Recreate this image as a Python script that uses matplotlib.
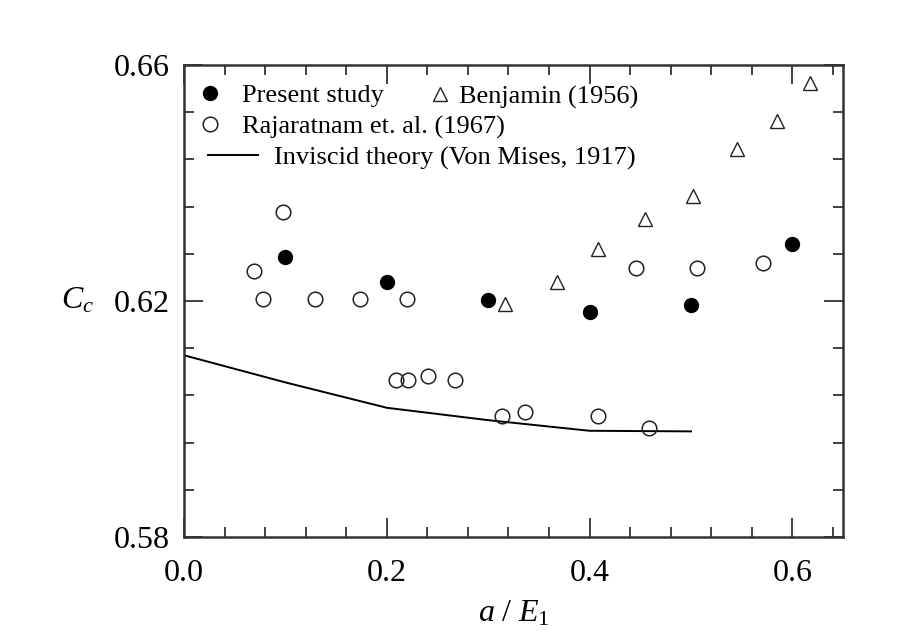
import matplotlib
matplotlib.use("Agg")
import numpy as np
import matplotlib.pyplot as plt
from matplotlib.lines import Line2D
from matplotlib.legend import Legend

plt.rcParams['font.family'] = ['Liberation Serif', 'DejaVu Serif']
plt.rcParams['mathtext.fontset'] = 'custom'
plt.rcParams['mathtext.rm'] = 'Liberation Serif'
plt.rcParams['mathtext.it'] = 'Liberation Serif:italic'

# Present study
present_x = [0.1, 0.2, 0.3, 0.4, 0.5, 0.6]
present_y = [0.6275, 0.6232, 0.6202, 0.6181, 0.6193, 0.6297]

# Benjamin (1956)
benj_x = [0.317, 0.368, 0.408, 0.455, 0.502, 0.545, 0.585, 0.617]
benj_y = [0.6195, 0.6232, 0.6288, 0.6339, 0.6378, 0.6458, 0.6505, 0.6569]

# Rajaratnam et. al. (1967)
raj_x = [0.069, 0.078, 0.098, 0.129, 0.174, 0.220, 0.209, 0.221, 0.241,
         0.267, 0.314, 0.336, 0.408, 0.446, 0.459, 0.506, 0.571]
raj_y = [0.6251, 0.6203, 0.6351, 0.6203, 0.6203, 0.6203, 0.6066, 0.6066, 0.6073,
         0.6066, 0.6005, 0.6012, 0.6005, 0.6256, 0.5985, 0.6256, 0.6264]

# Inviscid theory (Von Mises, 1917)
theory_x = [0.0, 0.1, 0.2, 0.3, 0.4, 0.5]
theory_y = [0.6108, 0.6062, 0.6019, 0.5998, 0.5980, 0.5979]

x_major = [0.0, 0.2, 0.4, 0.6]
y_major = [0.58, 0.62, 0.66]

fig = plt.figure(figsize=(9.13, 6.37), dpi=100)
ax = fig.add_axes([0.2015, 0.157, 0.722, 0.741])

ax.plot(theory_x, theory_y, color='black', lw=1.4)
ax.plot(raj_x, raj_y, 'o', ms=10.5, mfc='none', mec='#222222', mew=1.1, ls='none')
ax.plot(benj_x, benj_y, '^', ms=10, mfc='none', mec='#222222', mew=1.0, ls='none')
ax.plot(present_x, present_y, 'o', ms=10, color='black', ls='none')

ax.set_xlim(0, 0.65)
ax.set_ylim(0.58, 0.66)
ax.set_xticks(x_major)
ax.set_xticks(np.arange(0, 17) * 0.04, minor=True)
ax.set_yticks(y_major)
ax.set_yticks(0.58 + np.arange(0, 11) * 0.008, minor=True)
ax.set_xticklabels(['%.1f' % v for v in x_major])
ax.set_yticklabels(['%.2f' % v for v in y_major])
ax.tick_params(which='both', direction='in', top=True, right=True,
               labelsize=23, color='#333333', width=1.3)
ax.tick_params(axis='y', pad=10)
ax.tick_params(axis='x', pad=16)
ax.tick_params(which='major', length=14)
ax.tick_params(which='minor', length=7)
for s in ax.spines.values():
    s.set_linewidth(1.8)
    s.set_color('#333333')

ax.set_xlabel(r'$a\ /\ E_1$', fontsize=23, labelpad=8)
ax.set_ylabel(r'$C_c$', fontsize=23, rotation=0, labelpad=26, va='center')

h_present = Line2D([], [], marker='o', ms=10, color='black', ls='none')
h_raj = Line2D([], [], marker='o', ms=10.5, mfc='none', mec='#222222', mew=1.1, ls='none')
h_benj = Line2D([], [], marker='^', ms=10, mfc='none', mec='#222222', mew=1.0, ls='none')
h_line = Line2D([], [], color='black', lw=1.4)

legend_rows = [
    (h_present, 'Present study', (0.0197, 0.936), 1.0, 0.72),
    (h_raj, 'Rajaratnam et. al. (1967)', (0.0197, 0.869), 1.0, 0.72),
    (h_line, 'Inviscid theory (Von Mises, 1917)', (0.0364, 0.803), 1.9, 0.6),
    (h_benj, 'Benjamin (1956)', (0.369, 0.932), 1.0, 0.2),
]
for h, lab, anchor, hl, pad in legend_rows:
    leg = Legend(ax, [h], [lab], loc='center left', bbox_to_anchor=anchor,
                 frameon=False, fontsize=19, borderpad=0, borderaxespad=0,
                 handlelength=hl, handletextpad=pad)
    ax.add_artist(leg)

fig.savefig('out.png', dpi=100)
